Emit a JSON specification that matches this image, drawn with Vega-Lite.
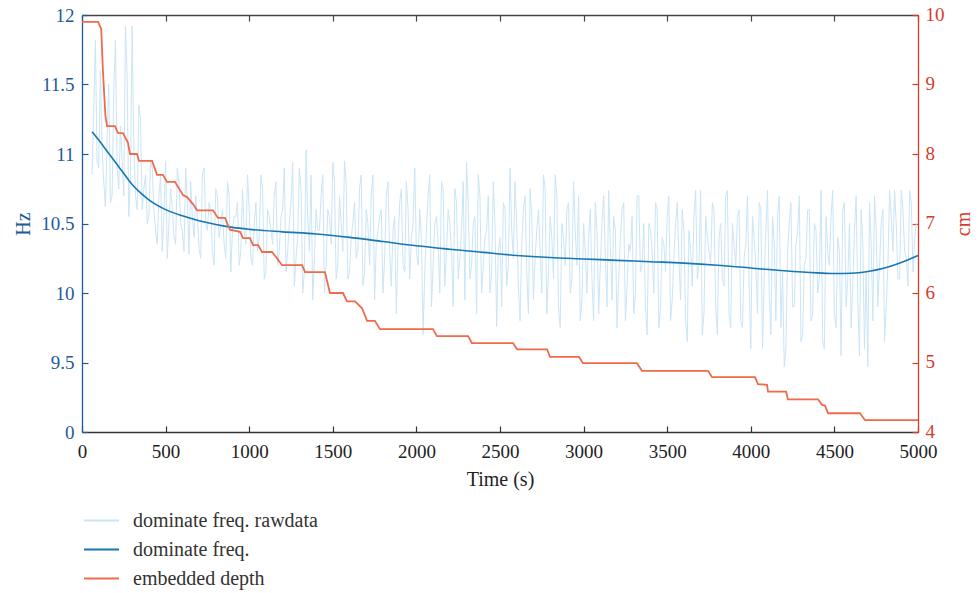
{
  "$schema": "https://vega.github.io/schema/vega-lite/v6.json",
  "width": 836,
  "height": 417,
  "autosize": {"type": "none"},
  "padding": {"left": 82, "top": 15, "right": 61, "bottom": 161},
  "background": "white",
  "config": {
    "view": {"stroke": null},
    "font": "Liberation Serif",
    "axis": {
      "grid": false,
      "labelFont": "Liberation Serif",
      "titleFont": "Liberation Serif",
      "titleFontWeight": "normal",
      "labelFontSize": 19,
      "titleFontSize": 20,
      "tickSize": -6,
      "domainWidth": 1.3,
      "tickWidth": 1.2
    },
    "legend": {
      "labelFont": "Liberation Serif",
      "labelFontSize": 20,
      "labelColor": "#333333",
      "labelLimit": 400,
      "symbolType": "stroke",
      "symbolSize": 1225,
      "symbolStrokeWidth": 2,
      "rowPadding": -5,
      "labelOffset": 13,
      "padding": 0
    }
  },
  "datasets": {
    "raw": [
      {"t":60,"v":10.85},{"t":80,"v":11.82},{"t":100,"v":10.9},{"t":120,"v":11.05},{"t":140,"v":10.62},{"t":160,"v":11.5},{"t":180,"v":10.7},{"t":200,"v":11.82},{"t":220,"v":10.75},{"t":240,"v":10.95},{"t":260,"v":11.92},{"t":280,"v":10.55},{"t":300,"v":11.92},{"t":320,"v":10.7},{"t":340,"v":11.35},{"t":360,"v":10.6},{"t":380,"v":10.85},{"t":400,"v":10.55},
      {"t":420,"v":10.9},{"t":440,"v":10.45},{"t":460,"v":10.7},{"t":480,"v":10.3},{"t":500,"v":10.95},{"t":520,"v":10.5},{"t":540,"v":10.62},{"t":560,"v":10.35},{"t":580,"v":10.8},{"t":600,"v":10.45},{"t":620,"v":10.9},{"t":640,"v":10.28},{"t":660,"v":10.55},{"t":680,"v":10.7},{"t":700,"v":10.32},{"t":720,"v":10.85},{"t":740,"v":10.5},{"t":760,"v":10.65},{"t":780,"v":10.3},{"t":800,"v":10.75},{"t":820,"v":10.4},{"t":840,"v":10.6},{"t":860,"v":10.25},{"t":880,"v":10.7},{"t":900,"v":10.45},{"t":920,"v":10.55},{"t":940,"v":10.2},{"t":960,"v":10.75},{"t":980,"v":10.35},{"t":1000,"v":10.6},
      {"t":1020,"v":10.2},{"t":1040,"v":10.65},{"t":1060,"v":10.4},{"t":1080,"v":10.75},{"t":1100,"v":10.15},{"t":1120,"v":10.55},{"t":1140,"v":10.35},{"t":1160,"v":10.8},{"t":1180,"v":10.3},{"t":1200,"v":10.6},{"t":1220,"v":10.15},{"t":1240,"v":10.5},{"t":1260,"v":10.94},{"t":1280,"v":10.25},{"t":1300,"v":10.9},{"t":1320,"v":10.0},{"t":1340,"v":11.03},{"t":1360,"v":10.3},{"t":1380,"v":9.95},{"t":1400,"v":10.6},{"t":1420,"v":10.45},{"t":1440,"v":10.85},{"t":1460,"v":10.2},{"t":1480,"v":10.55},{"t":1500,"v":10.94},{"t":1520,"v":10.1},{"t":1540,"v":10.7},{"t":1560,"v":10.3},{"t":1580,"v":10.8},{"t":1600,"v":10.15},{"t":1620,"v":10.5},{"t":1640,"v":10.25},{"t":1660,"v":10.75},{"t":1680,"v":10.05},{"t":1700,"v":10.6},{"t":1720,"v":10.2},{"t":1740,"v":10.85},{"t":1760,"v":10.35},{"t":1780,"v":10.55},{"t":1800,"v":10.0},{"t":1820,"v":10.7},{"t":1840,"v":10.3},{"t":1860,"v":10.45},{"t":1880,"v":9.85},{"t":1900,"v":10.65},{"t":1920,"v":10.2},{"t":1940,"v":10.8},{"t":1960,"v":10.1},{"t":1980,"v":10.5},{"t":2000,"v":10.3},
      {"t":2020,"v":10.6},{"t":2040,"v":9.7},{"t":2060,"v":10.45},{"t":2080,"v":10.85},{"t":2100,"v":10.2},{"t":2120,"v":10.55},{"t":2140,"v":10.0},{"t":2160,"v":10.75},{"t":2180,"v":10.3},{"t":2200,"v":10.5},{"t":2220,"v":9.9},{"t":2240,"v":10.65},{"t":2260,"v":10.25},{"t":2280,"v":10.8},{"t":2300,"v":10.94},{"t":2320,"v":10.1},{"t":2340,"v":10.5},{"t":2360,"v":9.85},{"t":2380,"v":10.7},{"t":2400,"v":10.2},{"t":2420,"v":10.45},{"t":2440,"v":10.0},{"t":2460,"v":10.8},{"t":2480,"v":9.76},{"t":2500,"v":10.4},{"t":2520,"v":10.65},{"t":2540,"v":10.05},{"t":2560,"v":10.9},{"t":2580,"v":10.25},{"t":2600,"v":10.5},{"t":2620,"v":9.8},{"t":2640,"v":10.6},{"t":2660,"v":10.15},{"t":2680,"v":10.75},{"t":2700,"v":9.95},{"t":2720,"v":10.45},{"t":2740,"v":10.3},{"t":2760,"v":10.85},{"t":2780,"v":9.85},{"t":2800,"v":10.55},{"t":2820,"v":10.1},{"t":2840,"v":10.7},{"t":2860,"v":9.75},{"t":2880,"v":10.4},{"t":2900,"v":10.6},{"t":2920,"v":10.0},{"t":2940,"v":10.8},{"t":2960,"v":10.2},{"t":2980,"v":9.8},{"t":3000,"v":10.5},
      {"t":3020,"v":10.0},{"t":3040,"v":10.6},{"t":3060,"v":9.8},{"t":3080,"v":10.45},{"t":3100,"v":10.2},{"t":3120,"v":10.7},{"t":3140,"v":9.9},{"t":3160,"v":10.35},{"t":3180,"v":10.55},{"t":3200,"v":9.75},{"t":3220,"v":10.4},{"t":3240,"v":10.65},{"t":3260,"v":10.05},{"t":3280,"v":10.3},{"t":3300,"v":9.85},{"t":3320,"v":10.7},{"t":3340,"v":10.15},{"t":3360,"v":10.5},{"t":3380,"v":9.7},{"t":3400,"v":10.45},{"t":3420,"v":10.0},{"t":3440,"v":10.6},{"t":3460,"v":9.9},{"t":3480,"v":10.35},{"t":3500,"v":10.55},{"t":3520,"v":9.8},{"t":3540,"v":10.25},{"t":3560,"v":10.65},{"t":3580,"v":9.95},{"t":3600,"v":10.45},{"t":3620,"v":9.65},{"t":3640,"v":10.3},{"t":3660,"v":10.55},{"t":3680,"v":10.1},{"t":3700,"v":10.74},{"t":3720,"v":9.85},{"t":3740,"v":10.4},{"t":3760,"v":10.2},{"t":3780,"v":10.6},{"t":3800,"v":9.7},{"t":3820,"v":10.5},{"t":3840,"v":10.05},{"t":3860,"v":10.74},{"t":3880,"v":9.75},{"t":3900,"v":10.35},{"t":3920,"v":10.55},{"t":3940,"v":9.8},{"t":3960,"v":10.25},{"t":3980,"v":10.7},{"t":4000,"v":9.6},
      {"t":4020,"v":10.4},{"t":4040,"v":9.85},{"t":4060,"v":10.6},{"t":4080,"v":10.1},{"t":4100,"v":10.74},{"t":4120,"v":9.7},{"t":4140,"v":10.35},{"t":4160,"v":10.55},{"t":4180,"v":9.75},{"t":4200,"v":9.47},{"t":4220,"v":10.3},{"t":4240,"v":10.65},{"t":4260,"v":9.9},{"t":4280,"v":10.45},{"t":4300,"v":9.65},{"t":4320,"v":10.2},{"t":4340,"v":10.6},{"t":4360,"v":9.8},{"t":4380,"v":10.5},{"t":4400,"v":10.0},{"t":4420,"v":10.74},{"t":4440,"v":9.6},{"t":4460,"v":10.3},{"t":4480,"v":10.55},{"t":4500,"v":9.85},{"t":4520,"v":10.4},{"t":4540,"v":9.55},{"t":4560,"v":10.65},{"t":4580,"v":10.1},{"t":4600,"v":9.75},{"t":4620,"v":10.45},{"t":4640,"v":9.95},{"t":4660,"v":10.6},{"t":4680,"v":9.6},{"t":4700,"v":9.47},{"t":4720,"v":10.35},{"t":4740,"v":10.7},{"t":4760,"v":9.9},{"t":4780,"v":10.5},{"t":4800,"v":9.65},{"t":4820,"v":10.2},{"t":4840,"v":10.55},{"t":4860,"v":10.74},{"t":4880,"v":10.1},{"t":4900,"v":10.74},{"t":4920,"v":10.3},{"t":4940,"v":10.05},{"t":4960,"v":10.65},{"t":4980,"v":10.4},
      {"t":70,"v":11.3},{"t":90,"v":10.95},{"t":110,"v":11.6},{"t":130,"v":10.8},{"t":150,"v":11.1},{"t":170,"v":10.65},{"t":190,"v":11.45},{"t":210,"v":10.9},{"t":230,"v":11.2},{"t":250,"v":10.7},{"t":270,"v":11.55},{"t":290,"v":10.85},{"t":310,"v":11.05},{"t":330,"v":10.6},{"t":350,"v":11.25},{"t":370,"v":10.75},{"t":390,"v":10.5},{"t":410,"v":10.95},
      {"t":430,"v":10.6},{"t":450,"v":10.35},{"t":470,"v":10.85},{"t":490,"v":10.55},{"t":510,"v":10.25},{"t":530,"v":10.75},{"t":550,"v":10.4},{"t":570,"v":10.9},{"t":590,"v":10.5},{"t":610,"v":10.3},{"t":630,"v":10.65},{"t":650,"v":10.8},{"t":670,"v":10.4},{"t":690,"v":10.55},{"t":710,"v":10.25},{"t":730,"v":10.9},{"t":750,"v":10.45},{"t":770,"v":10.6},{"t":790,"v":10.2},{"t":810,"v":10.7},{"t":830,"v":10.5},{"t":850,"v":10.35},{"t":870,"v":10.8},{"t":890,"v":10.15},{"t":910,"v":10.55},{"t":930,"v":10.65},{"t":950,"v":10.3},{"t":970,"v":10.45},{"t":990,"v":10.85},{"t":1010,"v":10.25},
      {"t":1030,"v":10.5},{"t":1050,"v":10.3},{"t":1070,"v":10.85},{"t":1090,"v":10.1},{"t":1110,"v":10.6},{"t":1130,"v":10.45},{"t":1150,"v":10.7},{"t":1170,"v":10.2},{"t":1190,"v":10.55},{"t":1210,"v":10.9},{"t":1230,"v":10.3},{"t":1250,"v":10.65},{"t":1270,"v":10.05},{"t":1290,"v":10.4},{"t":1310,"v":10.75},{"t":1330,"v":10.15},{"t":1350,"v":10.55},{"t":1370,"v":10.85},{"t":1390,"v":10.25},{"t":1410,"v":10.45},{"t":1430,"v":10.7},{"t":1450,"v":10.0},{"t":1470,"v":10.6},{"t":1490,"v":10.35},{"t":1510,"v":10.8},{"t":1530,"v":10.2},{"t":1550,"v":10.5},{"t":1570,"v":10.95},{"t":1590,"v":10.1},{"t":1610,"v":10.4},{"t":1630,"v":10.65},{"t":1650,"v":10.3},{"t":1670,"v":10.85},{"t":1690,"v":10.15},{"t":1710,"v":10.5},{"t":1730,"v":10.7},{"t":1750,"v":9.95},{"t":1770,"v":10.45},{"t":1790,"v":10.6},{"t":1810,"v":10.25},{"t":1830,"v":10.8},{"t":1850,"v":10.05},{"t":1870,"v":10.55},{"t":1890,"v":10.35},{"t":1910,"v":10.75},{"t":1930,"v":10.15},{"t":1950,"v":10.6},{"t":1970,"v":10.4},{"t":1990,"v":10.9},{"t":2010,"v":10.2},
      {"t":2030,"v":10.4},{"t":2050,"v":10.15},{"t":2070,"v":10.7},{"t":2090,"v":9.9},{"t":2110,"v":10.5},{"t":2130,"v":10.35},{"t":2150,"v":10.8},{"t":2170,"v":10.05},{"t":2190,"v":10.6},{"t":2210,"v":10.3},{"t":2230,"v":10.75},{"t":2250,"v":10.1},{"t":2270,"v":10.45},{"t":2290,"v":9.95},{"t":2310,"v":10.65},{"t":2330,"v":10.2},{"t":2350,"v":10.55},{"t":2370,"v":10.85},{"t":2390,"v":10.0},{"t":2410,"v":10.4},{"t":2430,"v":10.7},{"t":2450,"v":10.15},{"t":2470,"v":10.5},{"t":2490,"v":10.3},{"t":2510,"v":9.9},{"t":2530,"v":10.6},{"t":2550,"v":10.2},{"t":2570,"v":10.45},{"t":2590,"v":10.8},{"t":2610,"v":10.05},{"t":2630,"v":10.35},{"t":2650,"v":10.7},{"t":2670,"v":9.85},{"t":2690,"v":10.55},{"t":2710,"v":10.25},{"t":2730,"v":10.6},{"t":2750,"v":10.0},{"t":2770,"v":10.75},{"t":2790,"v":10.15},{"t":2810,"v":10.4},{"t":2830,"v":10.85},{"t":2850,"v":9.9},{"t":2870,"v":10.5},{"t":2890,"v":10.2},{"t":2910,"v":10.65},{"t":2930,"v":10.1},{"t":2950,"v":10.45},{"t":2970,"v":10.7},{"t":2990,"v":9.95},{"t":3010,"v":10.3},
      {"t":3030,"v":10.4},{"t":3050,"v":10.1},{"t":3070,"v":10.65},{"t":3090,"v":9.85},{"t":3110,"v":10.5},{"t":3130,"v":10.25},{"t":3150,"v":10.74},{"t":3170,"v":9.95},{"t":3190,"v":10.45},{"t":3210,"v":10.1},{"t":3230,"v":10.6},{"t":3250,"v":9.8},{"t":3270,"v":10.35},{"t":3290,"v":10.55},{"t":3310,"v":10.0},{"t":3330,"v":10.7},{"t":3350,"v":10.2},{"t":3370,"v":9.9},{"t":3390,"v":10.5},{"t":3410,"v":10.3},{"t":3430,"v":10.65},{"t":3450,"v":9.75},{"t":3470,"v":10.4},{"t":3490,"v":10.15},{"t":3510,"v":10.7},{"t":3530,"v":9.95},{"t":3550,"v":10.5},{"t":3570,"v":10.25},{"t":3590,"v":10.6},{"t":3610,"v":9.8},{"t":3630,"v":10.45},{"t":3650,"v":10.05},{"t":3670,"v":10.74},{"t":3690,"v":10.2},{"t":3710,"v":9.7},{"t":3730,"v":10.55},{"t":3750,"v":10.3},{"t":3770,"v":10.65},{"t":3790,"v":9.9},{"t":3810,"v":10.4},{"t":3830,"v":10.1},{"t":3850,"v":10.7},{"t":3870,"v":9.85},{"t":3890,"v":10.5},{"t":3910,"v":10.2},{"t":3930,"v":10.6},{"t":3950,"v":9.75},{"t":3970,"v":10.35},{"t":3990,"v":10.05},{"t":4010,"v":10.55},
      {"t":4030,"v":10.2},{"t":4050,"v":10.65},{"t":4070,"v":9.6},{"t":4090,"v":10.45},{"t":4110,"v":10.0},{"t":4130,"v":10.55},{"t":4150,"v":9.8},{"t":4170,"v":10.7},{"t":4190,"v":10.15},{"t":4210,"v":9.6},{"t":4230,"v":10.5},{"t":4250,"v":9.9},{"t":4270,"v":10.35},{"t":4290,"v":10.7},{"t":4310,"v":9.7},{"t":4330,"v":10.25},{"t":4350,"v":10.6},{"t":4370,"v":9.85},{"t":4390,"v":10.45},{"t":4410,"v":10.1},{"t":4430,"v":9.65},{"t":4450,"v":10.55},{"t":4470,"v":10.2},{"t":4490,"v":10.74},{"t":4510,"v":9.75},{"t":4530,"v":10.3},{"t":4550,"v":10.6},{"t":4570,"v":9.9},{"t":4590,"v":10.5},{"t":4610,"v":10.05},{"t":4630,"v":10.7},{"t":4650,"v":9.55},{"t":4670,"v":10.35},{"t":4690,"v":10.15},{"t":4710,"v":10.65},{"t":4730,"v":9.8},{"t":4750,"v":10.45},{"t":4770,"v":10.2},{"t":4790,"v":10.6},{"t":4810,"v":9.9},{"t":4830,"v":10.74},{"t":4850,"v":10.3},{"t":4870,"v":10.5},{"t":4890,"v":10.1},{"t":4910,"v":10.6},{"t":4930,"v":10.25},{"t":4950,"v":10.74},{"t":4970,"v":10.15},{"t":4990,"v":10.5}
    ],
    "smooth": [
      {"t":60,"v":11.16},{"t":100,"v":11.1},{"t":150,"v":11.02},{"t":200,"v":10.94},{"t":250,"v":10.86},{"t":300,"v":10.78},{"t":350,"v":10.72},{"t":400,"v":10.67},{"t":500,"v":10.6},{"t":600,"v":10.555},{"t":700,"v":10.52},{"t":800,"v":10.493},{"t":900,"v":10.472},{"t":1000,"v":10.458},{"t":1200,"v":10.44},{"t":1400,"v":10.425},{"t":1600,"v":10.4},{"t":1800,"v":10.37},{"t":2000,"v":10.34},{"t":2200,"v":10.315},{"t":2400,"v":10.292},{"t":2600,"v":10.27},{"t":2800,"v":10.255},{"t":3000,"v":10.245},{"t":3200,"v":10.235},{"t":3400,"v":10.225},{"t":3600,"v":10.215},{"t":3800,"v":10.2},{"t":4000,"v":10.18},{"t":4200,"v":10.16},{"t":4400,"v":10.145},{"t":4500,"v":10.14},{"t":4600,"v":10.142},{"t":4700,"v":10.155},{"t":4800,"v":10.18},{"t":4900,"v":10.22},{"t":5000,"v":10.27}
    ],
    "depth": [
      {"t":0,"v":9.9},{"t":96,"v":9.9},{"t":115,"v":9.8},{"t":125,"v":9.2},{"t":140,"v":8.55},{"t":150,"v":8.4},{"t":197,"v":8.4},{"t":216,"v":8.3},{"t":245,"v":8.3},{"t":275,"v":8.16},{"t":287,"v":8.0},{"t":329,"v":8.0},{"t":341,"v":7.9},{"t":419,"v":7.9},{"t":449,"v":7.7},{"t":484,"v":7.7},{"t":508,"v":7.6},{"t":556,"v":7.6},{"t":586,"v":7.48},{"t":604,"v":7.41},{"t":628,"v":7.38},{"t":664,"v":7.28},{"t":688,"v":7.19},{"t":784,"v":7.19},{"t":813,"v":7.08},{"t":855,"v":7.08},{"t":885,"v":6.91},{"t":945,"v":6.88},{"t":963,"v":6.79},{"t":1005,"v":6.79},{"t":1023,"v":6.69},{"t":1053,"v":6.69},{"t":1077,"v":6.59},{"t":1136,"v":6.59},{"t":1166,"v":6.5},{"t":1196,"v":6.4},{"t":1316,"v":6.4},{"t":1334,"v":6.3},{"t":1453,"v":6.3},{"t":1483,"v":6.0},{"t":1561,"v":6.0},{"t":1585,"v":5.88},{"t":1633,"v":5.88},{"t":1675,"v":5.78},{"t":1705,"v":5.6},{"t":1752,"v":5.6},{"t":1782,"v":5.48},{"t":2099,"v":5.48},{"t":2123,"v":5.38},{"t":2309,"v":5.38},{"t":2332,"v":5.28},{"t":2578,"v":5.28},{"t":2602,"v":5.19},{"t":2781,"v":5.19},{"t":2799,"v":5.08},{"t":2973,"v":5.08},{"t":2996,"v":4.99},{"t":3319,"v":4.99},{"t":3349,"v":4.88},{"t":3744,"v":4.88},{"t":3768,"v":4.79},{"t":4025,"v":4.79},{"t":4043,"v":4.69},{"t":4097,"v":4.68},{"t":4103,"v":4.58},{"t":4211,"v":4.58},{"t":4222,"v":4.47},{"t":4402,"v":4.47},{"t":4426,"v":4.39},{"t":4444,"v":4.38},{"t":4462,"v":4.27},{"t":4653,"v":4.27},{"t":4683,"v":4.17},{"t":5000,"v":4.17}
    ]
  },
  "layer": [
    {
      "layer": [
        {
          "data": {"name": "raw"},
          "mark": {"type": "line", "strokeWidth": 1},
          "encoding": {
            "x": {"field": "t", "type": "quantitative", "scale": {"domain": [0, 5000], "nice": false},
              "axis": {"orient": "bottom", "title": "Time (s)", "values": [0,500,1000,1500,2000,2500,3000,3500,4000,4500,5000], "format": "d", "labelColor": "#222222", "titleColor": "#222222", "domainColor": "#333333", "tickColor": "#333333", "labelPadding": 16, "titlePadding": 8, "labelFlush": false}},
            "y": {"field": "v", "type": "quantitative", "scale": {"domain": [9, 12], "nice": false, "zero": false},
              "axis": {"orient": "left", "title": "Hz", "values": [9,9.5,10,10.5,11,11.5,12], "format": "~f", "labelExpr": "datum.value == 9 ? '0' : datum.label", "labelColor": "#1f5b9b", "titleColor": "#1f5b9b", "domainColor": "#1f5b9b", "tickColor": "#1f5b9b", "labelPadding": 14, "titlePadding": 7}},
            "color": {"datum": "dominate freq. rawdata", "type": "nominal",
              "scale": {"domain": ["dominate freq. rawdata", "dominate freq.", "embedded depth"], "range": ["#cbe5f6", "#1877b1", "#f06a4c"]},
              "legend": {"orient": "none", "legendX": 1, "legendY": 487, "title": null, "direction": "vertical"}}
          }
        },
        {
          "data": {"name": "smooth"},
          "mark": {"type": "line", "strokeWidth": 1.6, "interpolate": "monotone"},
          "encoding": {
            "x": {"field": "t", "type": "quantitative"},
            "y": {"field": "v", "type": "quantitative"},
            "color": {"datum": "dominate freq.", "type": "nominal"}
          }
        }
      ]
    },
    {
      "data": {"name": "depth"},
      "mark": {"type": "line", "strokeWidth": 1.8},
      "encoding": {
        "x": {"field": "t", "type": "quantitative",
          "axis": {"orient": "top", "title": null, "labels": false, "values": [0,500,1000,1500,2000,2500,3000,3500,4000,4500,5000], "domainColor": "#444444", "tickColor": "#444444"}},
        "y": {"field": "v", "type": "quantitative", "scale": {"domain": [4, 10], "nice": false, "zero": false},
          "axis": {"orient": "right", "title": "cm", "titleAngle": 270, "values": [4,5,6,7,8,9,10], "labelOffset": -1, "labelColor": "#d63b2d", "titleColor": "#d63b2d", "domainColor": "#d63b2d", "tickColor": "#d63b2d", "labelPadding": 13, "titlePadding": 29}},
        "color": {"datum": "embedded depth", "type": "nominal"}
      }
    }
  ],
  "resolve": {"scale": {"y": "independent"}, "axis": {"x": "independent", "y": "independent"}}
}
